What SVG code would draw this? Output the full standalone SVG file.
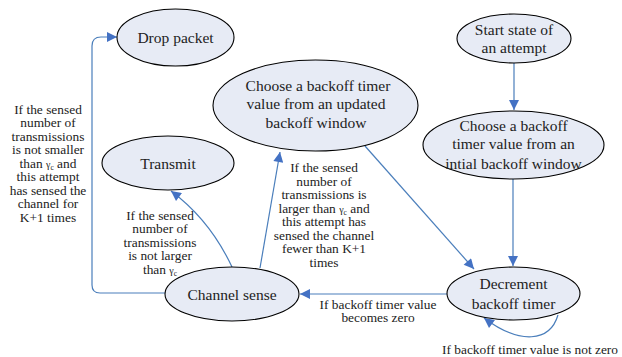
<svg xmlns="http://www.w3.org/2000/svg" width="622" height="357" viewBox="0 0 622 357">
<defs>
<style>
.node ellipse{fill:#e7ebf5;stroke:#000;stroke-width:1.1}
.nt{font-size:15.5px;fill:#222;text-anchor:middle}
.lb{font-size:13.4px;fill:#222;text-anchor:middle}
.edge{fill:none;stroke:#4a7ebb;stroke-width:1.2}
.g{font-size:10px}
.s{font-size:7.5px;baseline-shift:-1.5px}
</style>
<marker id="ah" viewBox="0 0 10 10" refX="10" refY="5" markerWidth="11" markerHeight="10" markerUnits="userSpaceOnUse" orient="auto">
<path d="M0,0 L10,5 L0,10 z" fill="#4472c4"/>
</marker>
</defs>
<rect width="622" height="357" fill="#fff"/>
<g id="connectors">
<path class="edge" d="M514,63 L514,110" marker-end="url(#ah)"/>
<path class="edge" d="M513,179 L513,266" marker-end="url(#ah)"/>
<path class="edge" d="M365,146 L474,269" marker-end="url(#ah)"/>
<path class="edge" d="M447,294 L300,294" marker-end="url(#ah)"/>
<path class="edge" d="M558,315 C550,342 520,345 484,318" marker-end="url(#ah)"/>
<path class="edge" d="M260,268 L280,152" marker-end="url(#ah)"/>
<path class="edge" d="M232,267 Q210,220 171,191" marker-end="url(#ah)"/>
<path class="edge" d="M165,293 L100,293 Q92,293 92,285 L92,46 Q92,37 101,37 L117,37" marker-end="url(#ah)"/>
</g>
<g font-family="Liberation Serif, Times New Roman, serif">
<g id="drop" class="node"><ellipse cx="175.5" cy="37.5" rx="58.5" ry="28.5"/><text class="nt" x="175.5" y="43">Drop packet</text></g>
<g id="transmit" class="node"><ellipse cx="168" cy="163" rx="66" ry="27"/><text class="nt" x="168" y="168.5">Transmit</text></g>
<g id="updated" class="node"><ellipse cx="315.5" cy="105.5" rx="102.5" ry="45.5"/>
<text class="nt" x="318" y="91">Choose a backoff timer</text>
<text class="nt" x="316" y="109">value from an updated</text>
<text class="nt" x="316" y="128">backoff window</text></g>
<g id="start" class="node"><ellipse cx="514" cy="38.5" rx="57" ry="24.5"/>
<text class="nt" x="514" y="34.5">Start state of</text>
<text class="nt" x="514" y="52.5">an attempt</text></g>
<g id="initial" class="node"><ellipse cx="513.5" cy="145" rx="90.5" ry="34"/>
<text class="nt" x="513.5" y="131">Choose a backoff</text>
<text class="nt" x="513.5" y="148.5">timer value from an</text>
<text class="nt" x="513.5" y="168.5">intial backoff window</text></g>
<g id="decrement" class="node"><ellipse cx="513.5" cy="293.5" rx="66.5" ry="26.5"/>
<text class="nt" x="513.5" y="288.5">Decrement</text>
<text class="nt" x="513.5" y="308.5">backoff timer</text></g>
<g id="channel" class="node"><ellipse cx="232" cy="294" rx="67" ry="27"/>
<text class="nt" x="232" y="300">Channel sense</text></g>
<g id="labels">
<text class="lb" x="48" y="113.5">If the sensed</text>
<text class="lb" x="48" y="127">number of</text>
<text class="lb" x="48" y="140.5">transmissions</text>
<text class="lb" x="48" y="154">is not smaller</text>
<text class="lb" x="48" y="167.5">than <tspan class="g">γ</tspan><tspan class="s">c</tspan> and</text>
<text class="lb" x="48" y="181">this attempt</text>
<text class="lb" x="48" y="194.5">has sensed the</text>
<text class="lb" x="48" y="208">channel for</text>
<text class="lb" x="48" y="221.5">K+1 times</text>
<text class="lb" x="160" y="219.5">If the sensed</text>
<text class="lb" x="160" y="233">number of</text>
<text class="lb" x="160" y="246.5">transmissions</text>
<text class="lb" x="160" y="260">is not larger</text>
<text class="lb" x="160" y="273.5">than <tspan class="g">γ</tspan><tspan class="s">c</tspan></text>
<text class="lb" x="324" y="172">If the sensed</text>
<text class="lb" x="324" y="185.5">number of</text>
<text class="lb" x="324" y="199">transmissions is</text>
<text class="lb" x="324" y="212.5">larger than <tspan class="g">γ</tspan><tspan class="s">c</tspan> and</text>
<text class="lb" x="324" y="226">this attempt has</text>
<text class="lb" x="324" y="239.5">sensed the channel</text>
<text class="lb" x="324" y="253">fewer than K+1</text>
<text class="lb" x="324" y="266.5">times</text>
<text class="lb" x="378" y="308.5">If backoff timer value</text>
<text class="lb" x="378" y="322">becomes zero</text>
<text class="lb" x="530" y="354">If backoff timer value is not zero</text>
</g>
</g>
</svg>
